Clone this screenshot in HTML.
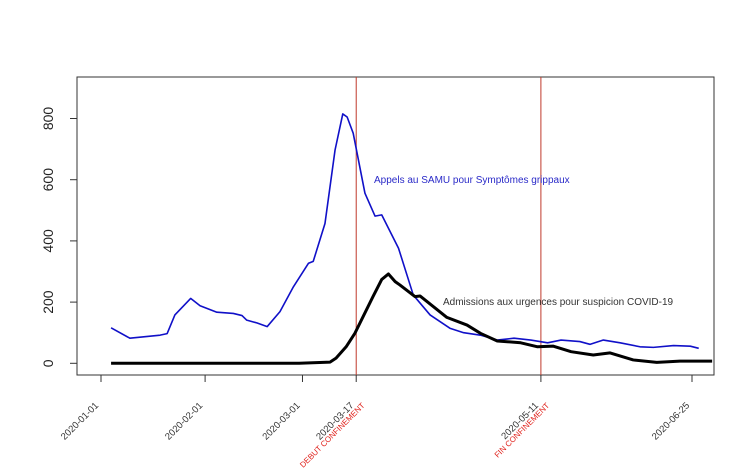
<!DOCTYPE html>
<html><head><meta charset="utf-8"><style>
body{margin:0;background:#fff}
svg{display:block;font-family:"Liberation Sans",sans-serif}
</style></head><body>
<svg id="chart" width="754" height="471"></svg>
<script>
const blueDays=[3,8.6,17.6,19.7,22,26.7,29.5,34.5,39.4,42,43.4,46.4,49.5,53.3,57.3,61.8,63.2,66.7,69.7,72,73.3,75.1,78.6,81.6,83.6,88.6,93,98,104,108,113,118,123,128,133,137,142.6,145.6,149.6,154.6,160.5,164.5,170.5,175.5,178];
const blueVals=[116,82,92,97,158,212,188,167,163,156,141,132,120,169,250,327,333,457,697,815,805,752,556,481,485,376,223,158,114,100,92,76,82,76,67,76,71,62,76,67,54,52,58,56,49];
const blackDays=[3,59,68.2,70,73,75.6,81,83.6,85.6,87.6,89,93.5,95,99,103,109,113,118,125,130,134.7,140,146.6,151.6,158.5,165.5,172.4,182];
const blackVals=[0,0,4,17,54,98,218,274,292,267,256,218,220,185,150,125,98,73,67,54,56,38,27,34,11,3,7,7];
const yTicks=[0,200,400,600,800];
const xTickDays=[0,31,60,76,131,176];
const xTickLabels=["2020-01-01","2020-02-01","2020-03-01","2020-03-17","2020-05-11","2020-06-25"];
const eventDays=[76,131];
const eventLabels=["DEBUT CONFINEMENT","FIN CONFINEMENT"];

const NS="http://www.w3.org/2000/svg";
const svg=document.getElementById('chart');
const X=d=>101+d*3.358;
const Y=v=>363.3-v*0.306;
function el(tag,attrs,parent){const e=document.createElementNS(NS,tag);for(const k in attrs)e.setAttribute(k,attrs[k]);(parent||svg).appendChild(e);return e;}

const box=el('rect',{x:77,y:77,width:637,height:298,fill:'none',stroke:'#333','stroke-width':1});



yTicks.forEach(v=>{
  const t=el('line',{x1:70,x2:77,y1:Y(v),y2:Y(v),stroke:'#333'});
  
  
  const l=el('text',{x:0,y:0,transform:`translate(53,${Y(v)}) rotate(-90)`,'text-anchor':'middle','font-size':14,fill:'#222'});
  l.textContent=v;
  
  
});

xTickDays.forEach((d,i)=>{
  const t=el('line',{x1:X(d),x2:X(d),y1:375,y2:382,stroke:'#333'});
  
  
  const l=el('text',{x:0,y:0,transform:`translate(${X(d)-2},406) rotate(-45)`,'text-anchor':'end','font-size':9.5,fill:'#333'});
  l.textContent=xTickLabels[i];
  
  
});

eventDays.forEach((d,i)=>{
  const ln=el('line',{x1:X(d),x2:X(d),y1:77,y2:375,stroke:'#c0392b','stroke-width':1});
  
  
  const l=el('text',{x:0,y:0,transform:`translate(${X(d)+9},406) rotate(-45)`,'text-anchor':'end','font-size':8,fill:'#e0201a'});
  l.textContent=eventLabels[i];
  
  
});

const bp=el('polyline',{points:blueDays.map((d,i)=>X(d)+','+Y(blueVals[i])).join(' '),fill:'none',stroke:'#1010c8','stroke-width':1.6,'stroke-linejoin':'round'});


const kp=el('polyline',{points:blackDays.map((d,i)=>X(d)+','+Y(blackVals[i])).join(' '),fill:'none',stroke:'#000','stroke-width':3,'stroke-linejoin':'round'});



const bl=el('text',{x:374,y:183,'font-size':10,fill:'#2a2ac8'});
bl.textContent="Appels au SAMU pour Symptômes grippaux";


const kl=el('text',{x:443,y:305,'font-size':10,fill:'#333'});
kl.textContent="Admissions aux urgences pour suspicion COVID-19";


</script>
</body></html>
